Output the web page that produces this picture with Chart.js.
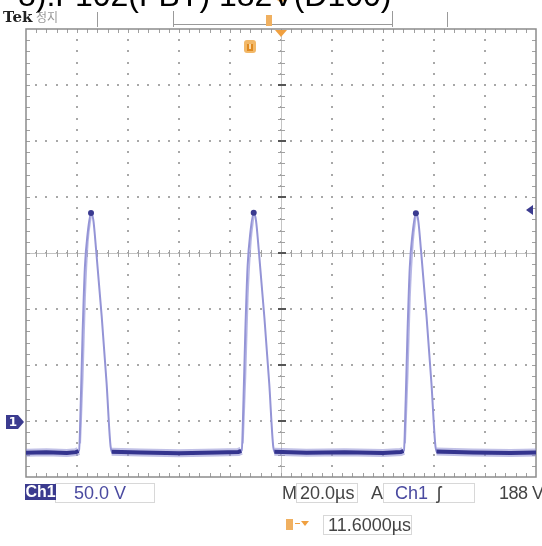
<!DOCTYPE html>
<html>
<head>
<meta charset="utf-8">
<script src="https://cdn.jsdelivr.net/npm/chart.js@4.4.1/dist/chart.umd.min.js"></script>
<style>
  html, body { margin: 0; padding: 0; background: #fff; overflow: hidden; }
  #wrap { position: relative; width: 542px; height: 546px; }
  #scope { position: absolute; left: 0; top: 0; }
  .t { position: absolute; white-space: nowrap; font-family: "Liberation Sans Narrow", "Liberation Sans", sans-serif; font-size: 18px; line-height: 18px; color: #333; }
  .box { position: absolute; border: 1px solid #d8d8d8; }
</style>
</head>
<body>
<div id="wrap">
  <canvas id="scope" width="542" height="546"></canvas>

  <div class="t" style="left:18px; top:-21px; font-family:'Liberation Sans',Arial,sans-serif; font-size:32px; line-height:32px; color:#000;">8):F102(FBT) 182V(D100)</div>
  <div class="t" style="left:3px; top:10px; font-family:'DejaVu Serif',serif; font-weight:bold; font-size:15px; line-height:15px; color:#222;">Tek</div>
  <div class="t" style="left:36px; top:10px; font-family:'Noto Sans CJK KR',sans-serif; font-size:12px; line-height:14px; color:#999;">정지</div>

  <!-- bottom status -->
  <div class="box" style="left:55px; top:483px; width:98px; height:18px;"></div>
  <div class="t" style="left:25px; top:484px; width:31px; height:16px; background:#3b3b8f; color:#fff; font-weight:bold; text-align:center; font-size:16px; line-height:16px;">Ch1</div>
  <div class="t" style="left:74px; top:484px; color:#4a4aa0;">50.0 V</div>
  <div class="t" style="left:282px; top:484px; color:#444;">M</div>
  <div class="box" style="left:296px; top:483px; width:60px; height:18px;"></div>
  <div class="t" style="left:300px; top:484px; color:#444;">20.0µs</div>
  <div class="t" style="left:371px; top:484px; color:#444;">A</div>
  <div class="box" style="left:383px; top:483px; width:90px; height:18px;"></div>
  <div class="t" style="left:395px; top:484px; color:#4a4aa0;">Ch1</div>
  <div class="t" style="left:437px; top:484px; color:#444;">ʃ</div>
  <div class="t" style="left:499px; top:484px; color:#444; letter-spacing:-0.5px;">188 V</div>

  <div class="box" style="left:323px; top:515px; width:87px; height:18px;"></div>
  <div class="t" style="left:328px; top:516px; color:#444;">11.6000µs</div>
</div>

<script>
// time axis in microseconds (20 us/div, 10 div), volts (50 V/div, 8 div)
var timeMin = 0, timeMax = 200;
var voltMin = -50, voltMax = 350;
var timeTicks = [0, 20, 40, 60, 80, 100, 120, 140, 160, 180, 200];
var voltTicks = [-50, 0, 50, 100, 150, 200, 250, 300, 350];

// Ch1 trace
var traceTime = [0, 8, 16, 19.6, 20.8, 21.5, 22.2, 23.1, 24.2, 25.5, 26.4, 27.5, 29.7, 31.6, 33.2, 34.1,
                 45, 60, 75, 83.3, 84.6, 85.3, 86.0, 86.9, 88.0, 89.3, 90.2, 91.3, 93.5, 95.4, 97.0, 97.9,
                 110, 125, 140, 147.0, 148.2, 148.9, 149.6, 150.5, 151.6, 152.9, 153.8, 154.9, 157.1, 159.0, 160.6, 161.5,
                 175, 190, 200];
var traceVolt = [-28.4, -28.0, -28.6, -27.8, -26.5, 18.8, 78.6, 137.5, 167.9, 185.7, 179.5, 152.7, 92.9, 33.9, -23.2, -28.6,
                 -28.2, -28.7, -28.1, -27.6, -26.3, 19.5, 79.0, 138.0, 168.5, 186.0, 179.0, 152.0, 92.0, 33.0, -23.5, -28.5,
                 -28.3, -28.0, -28.6, -27.7, -26.4, 18.5, 78.0, 137.0, 167.5, 185.5, 179.3, 152.5, 92.5, 33.5, -23.0, -28.4,
                 -28.1, -28.6, -28.2];

// persistence echo of the rising edges
var echoTime = [21.3, 22.3, 23.2, 24.3, 25.6, null, 85.1, 86.1, 87.0, 88.2, 89.4, null, 148.7, 149.7, 150.6, 151.8, 153.0];
var echoVolt = [-20, 40, 110, 160, 184, null, -20, 40, 110, 160, 184, null, -20, 40, 110, 160, 184];

// flat part of the trace (drawn heavy)
var baseTime = [0, 8, 16, 19.6, 20.6, null, 33.6, 45, 60, 75, 83.3, 84.4, null, 97.4, 110, 125, 140, 147.0, 148.0, null, 161.0, 175, 190, 200];
var baseVolt = [-28.4, -28.0, -28.6, -27.8, -26.8, null, -27.5, -28.2, -28.7, -28.1, -27.6, -26.6, null, -27.4, -28.3, -28.0, -28.6, -27.7, -26.7, null, -27.3, -28.1, -28.6, -28.2];

var peakTime = [25.5, 89.3, 152.9];
var peakVolt = [185.7, 186.0, 185.5];

var triggerLevel = 188;
var groundLevel = 0;
var triggerTime = 100;

function pts(xs, ys) {
  var out = [];
  for (var i = 0; i < xs.length; i++) {
    out.push(xs[i] === null ? {x: null, y: null} : {x: xs[i], y: ys[i]});
  }
  return out;
}

// Tek style graticule, markers
var graticule = {
  id: 'graticule',
  beforeDatasetsDraw: function(chart) {
    var ctx = chart.ctx, a = chart.chartArea;
    var xs = chart.scales.x, ys = chart.scales.y;
    ctx.save();
    var xc = xs.getPixelForValue(100), yc = ys.getPixelForValue(150);
    var dx = (a.right - a.left) / 50, dy = (a.bottom - a.top) / 40;

    // dots on division lines
    ctx.fillStyle = '#a8a8a8';
    for (var i = 1; i < timeTicks.length - 1; i++) {
      var px = Math.round(xs.getPixelForValue(timeTicks[i]));
      for (var j = 1; j < 40; j++) ctx.fillRect(px - 1, Math.round(a.top + j * dy) - 1, 2, 2);
    }
    for (var k = 1; k < voltTicks.length - 1; k++) {
      var py = Math.round(ys.getPixelForValue(voltTicks[k]));
      for (var m = 1; m < 50; m++) ctx.fillRect(Math.round(a.left + m * dx) - 1, py - 1, 2, 2);
    }

    // centre cross
    ctx.strokeStyle = '#c4c4c4';
    ctx.lineWidth = 1;
    ctx.beginPath();
    ctx.moveTo(a.left, Math.round(yc) + 0.5); ctx.lineTo(a.right, Math.round(yc) + 0.5);
    ctx.moveTo(Math.round(xc) + 0.5, a.top); ctx.lineTo(Math.round(xc) + 0.5, a.bottom);
    ctx.stroke();
    ctx.strokeStyle = '#a0a0a0';
    ctx.beginPath();
    for (var n = 1; n < 50; n++) {
      var tx = Math.round(a.left + n * dx) + 0.5;
      ctx.moveTo(tx, yc - 3); ctx.lineTo(tx, yc + 4);
      ctx.moveTo(tx, a.top); ctx.lineTo(tx, a.top + 4);
      ctx.moveTo(tx, a.bottom); ctx.lineTo(tx, a.bottom - 4);
    }
    for (var q = 1; q < 40; q++) {
      var ty = Math.round(a.top + q * dy) + 0.5;
      ctx.moveTo(xc - 3, ty); ctx.lineTo(xc + 4, ty);
      ctx.moveTo(a.left, ty); ctx.lineTo(a.left + 4, ty);
      ctx.moveTo(a.right, ty); ctx.lineTo(a.right - 4, ty);
    }
    ctx.stroke();
    // major ticks darker on centre lines
    ctx.fillStyle = '#555';
    for (var r = 1; r < voltTicks.length - 1; r++) {
      var my = Math.round(ys.getPixelForValue(voltTicks[r]));
      ctx.fillRect(Math.round(xc) - 3, my - 1, 8, 2);
    }

    // border
    ctx.strokeStyle = '#8c8c8c';
    ctx.lineWidth = 1.5;
    ctx.strokeRect(a.left, a.top, a.right - a.left, a.bottom - a.top);

    // record bar on top
    ctx.strokeStyle = '#9a9a9a';
    ctx.lineWidth = 1;
    ctx.beginPath();
    ctx.moveTo(173.5, 11); ctx.lineTo(173.5, 27);
    ctx.moveTo(392.5, 11); ctx.lineTo(392.5, 27);
    ctx.moveTo(173, 24.5); ctx.lineTo(392, 24.5);
    ctx.moveTo(97.5, 12); ctx.lineTo(97.5, 27);
    ctx.moveTo(447.5, 12); ctx.lineTo(447.5, 27);
    ctx.stroke();
    ctx.fillStyle = '#f0b060';
    ctx.fillRect(266, 15, 6, 11);
    ctx.beginPath(); ctx.moveTo(277, 0); ctx.lineTo(285, 0); ctx.lineTo(281, 3); ctx.fill();

    // trigger position triangle and U marker
    var trx = xs.getPixelForValue(triggerTime);
    ctx.fillStyle = '#f0a040';
    ctx.beginPath(); ctx.moveTo(trx - 6, a.top + 1); ctx.lineTo(trx + 6, a.top + 1); ctx.lineTo(trx, a.top + 8); ctx.fill();
    ctx.fillStyle = '#f2b868';
    ctx.beginPath(); ctx.roundRect(244, 40, 12, 13, 3); ctx.fill();
    ctx.fillStyle = '#e08a20';
    ctx.fillRect(247, 44, 6, 7);
    ctx.fillStyle = '#f8d8a8';
    ctx.fillRect(249, 44, 2, 5);

    // orange marker on bottom line
    ctx.fillStyle = '#f0b060';
    ctx.fillRect(286, 519, 7, 11);
    ctx.fillStyle = '#f0a040';
    ctx.fillRect(295, 523, 5, 1);
    ctx.beginPath(); ctx.moveTo(301, 521); ctx.lineTo(309, 521); ctx.lineTo(305, 526); ctx.fill();

    // ground marker (Ch1)
    var gy = Math.round(ys.getPixelForValue(groundLevel)) + 1;
    ctx.fillStyle = '#3b3b8f';
    ctx.beginPath();
    ctx.moveTo(6, gy - 7); ctx.lineTo(18, gy - 7); ctx.lineTo(24, gy); ctx.lineTo(18, gy + 7); ctx.lineTo(6, gy + 7); ctx.closePath();
    ctx.fill();
    ctx.fillStyle = '#fff';
    ctx.font = 'bold 12px "DejaVu Sans", sans-serif';
    ctx.textAlign = 'center'; ctx.textBaseline = 'middle';
    ctx.fillText('1', 13, gy + 1);

    // trigger level arrow
    var ly = Math.round(ys.getPixelForValue(triggerLevel));
    ctx.fillStyle = '#3b3b8f';
    ctx.beginPath(); ctx.moveTo(526, ly); ctx.lineTo(533, ly - 5); ctx.lineTo(533, ly + 5); ctx.closePath(); ctx.fill();
    ctx.restore();
  }
};

var ctx = document.getElementById('scope');
var scope = new Chart(ctx, {
  type: 'line',
  data: {
    datasets: [
      {
        label: 'peak',
        data: pts(peakTime, peakVolt),
        showLine: false,
        pointRadius: 3,
        pointBackgroundColor: '#3a3a90',
        pointBorderWidth: 0,
        order: 0
      },
      {
        label: 'base',
        data: pts(baseTime, baseVolt),
        borderColor: '#34348e',
        borderWidth: 4,
        pointRadius: 0,
        spanGaps: false,
        order: 1
      },
      {
        label: 'base halo',
        data: pts(baseTime, baseVolt),
        borderColor: 'rgba(140,140,210,0.55)',
        borderWidth: 8,
        pointRadius: 0,
        spanGaps: false,
        order: 2
      },
      {
        label: 'Ch1',
        data: pts(traceTime, traceVolt),
        borderColor: '#9494d6',
        borderWidth: 2,
        pointRadius: 0,
        cubicInterpolationMode: 'monotone',
        order: 3
      },
      {
        label: 'echo',
        data: pts(echoTime, echoVolt),
        borderColor: 'rgba(165,165,222,0.8)',
        borderWidth: 1.5,
        pointRadius: 0,
        spanGaps: false,
        cubicInterpolationMode: 'monotone',
        order: 4
      }
    ]
  },
  options: {
    responsive: false,
    animation: false,
    layout: { padding: { left: 26, top: 29, right: 6, bottom: 69 } },
    plugins: { legend: { display: false }, tooltip: { enabled: false } },
    scales: {
      x: { type: 'linear', min: timeMin, max: timeMax, display: false },
      y: { type: 'linear', min: voltMin, max: voltMax, display: false }
    }
  },
  plugins: [graticule]
});
</script>
</body>
</html>
